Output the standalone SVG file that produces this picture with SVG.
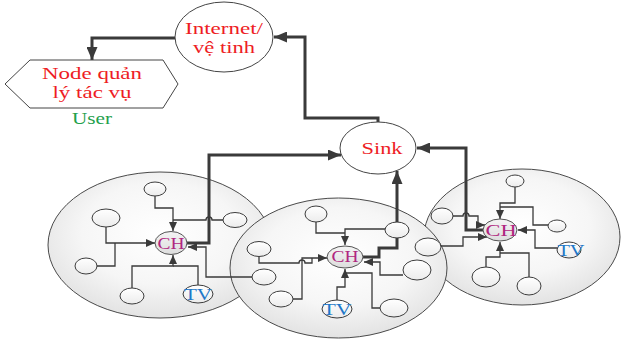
<svg xmlns="http://www.w3.org/2000/svg" width="621" height="340" viewBox="0 0 621 340">
<defs>
<radialGradient id="gCluster" cx="50%" cy="42%" r="58%">
<stop offset="0" stop-color="#ffffff"/>
<stop offset="0.6" stop-color="#f6f6f6"/>
<stop offset="1" stop-color="#e3e3e3"/>
</radialGradient>
<linearGradient id="gNode" x1="0" y1="0" x2="0" y2="1">
<stop offset="0" stop-color="#ffffff"/>
<stop offset="1" stop-color="#ececec"/>
</linearGradient>
<linearGradient id="gCH" x1="0" y1="0" x2="0" y2="1">
<stop offset="0" stop-color="#f4f4f4"/>
<stop offset="1" stop-color="#dddddd"/>
</linearGradient>
<marker id="aThin" markerUnits="userSpaceOnUse" markerWidth="10" markerHeight="8" refX="9" refY="4" orient="auto">
<path d="M0,0 L9,4 L0,8 z" fill="#3a3a3a"/>
</marker>
<marker id="aThick" markerUnits="userSpaceOnUse" markerWidth="14" markerHeight="11" refX="13" refY="5.5" orient="auto">
<path d="M0,0 L13,5.5 L0,11 z" fill="#3a3a3a"/>
</marker>
</defs>
<style>
.cluster{fill:url(#gCluster);stroke:#4a4a4a;stroke-width:1}
.node{fill:url(#gNode);stroke:#3c3c3c;stroke-width:1}
.ch{fill:url(#gCH);stroke:#555;stroke-width:1}
.big{fill:#ffffff;stroke:#444;stroke-width:1}
.thin{fill:none;stroke:#3a3a3a;stroke-width:1.3}
.thick{fill:none;stroke:#3a3a3a;stroke-width:3;stroke-linejoin:miter}
.t{font-family:"Liberation Serif","Times New Roman",serif;text-anchor:middle}
.red{fill:#ee1c24;font-size:17px}
.chT{fill:#b0267f;font-size:16px}
.tvT{fill:#1f78c8;font-size:16px}
</style>
<rect width="621" height="340" fill="#ffffff"/>

<g id="cluster1"><ellipse class="cluster" cx="160" cy="245" rx="112" ry="73"/></g>
<g id="cluster3"><ellipse class="cluster" cx="522" cy="237" rx="98" ry="68"/></g>
<g id="cluster2"><ellipse class="cluster" cx="338.5" cy="268" rx="108.5" ry="70"/></g>

<g id="connectors">
<path class="thin" d="M155,196 V208 H173 V231" marker-end="url(#aThin)"/>
<path class="thin" d="M223,220 H212 a3,3 0 0 0 -6,0 H173"/>
<path class="thin" d="M106,227 V243 H155" marker-end="url(#aThin)"/>
<path class="thin" d="M97,266 H115 V243"/>
<path class="thin" d="M132,288 V266 H173 V255" marker-end="url(#aThin)"/>
<path class="thin" d="M198,285 V266 H173"/>
<path class="thin" d="M252,277 H206 V247 H188" marker-end="url(#aThin)"/>

<path class="thin" d="M316,222 V233 H345"/>
<path class="thin" d="M385,229 H345 V245" marker-end="url(#aThin)"/>
<path class="thin" d="M259,256 V263 H299 a3,3 0 0 1 6,0 H312 V258"/>
<path class="thin" d="M293,299 H302 V258 H327" marker-end="url(#aThin)"/>
<path class="thin" d="M337,300 V287 H345 V269" marker-end="url(#aThin)"/>
<path class="thin" d="M380,308 H372 V273 H345"/>
<path class="thin" d="M403,275 H380 V262 H364" marker-end="url(#aThin)"/>

<path class="thin" d="M515,187 V203 H500 V219" marker-end="url(#aThin)"/>
<path class="thin" d="M548,225 H533 V207 H500"/>
<path class="thin" d="M557,248 H535 V230 H518" marker-end="url(#aThin)"/>
<path class="thin" d="M486,268 V257 H500 V242" marker-end="url(#aThin)"/>
<path class="thin" d="M529,278 V253 H500"/>
<path class="thin" d="M453,216 H463 a3,3 0 0 1 6,0 H478 V225 H485" marker-end="url(#aThin)"/>
<path class="thin" d="M440,246 H463 V237 H487" marker-end="url(#aThin)"/>

<path class="thick" d="M175,38 H92 V60" marker-end="url(#aThick)"/>
<path class="thick" d="M378,122 V118 H305 V37 H274" marker-end="url(#aThick)"/>
<path class="thick" d="M187,243 H209 V155 H341" marker-end="url(#aThick)"/>
<path class="thick" d="M363,257 H379 V248 H397 V171" marker-end="url(#aThick)"/>
<path class="thick" d="M483,230 H466 V148 H417" marker-end="url(#aThick)"/>
</g>

<g id="internet">
<ellipse class="big" cx="224" cy="37" rx="49" ry="35"/>
<text class="t red" x="224" y="34" textLength="78" lengthAdjust="spacingAndGlyphs">Internet/</text>
<text class="t red" x="224" y="53" textLength="62" lengthAdjust="spacingAndGlyphs">vệ tinh</text>
</g>

<g id="taskManager">
<polygon class="big" points="5,84 30,60 163,60 178,84 163,108 30,108" stroke="#777"/>
<text class="t red" x="92" y="79" textLength="100" lengthAdjust="spacingAndGlyphs">Node quản</text>
<text class="t red" x="92" y="98" textLength="79" lengthAdjust="spacingAndGlyphs">lý tác vụ</text>
<text class="t" x="92" y="124" font-size="16" fill="#22a04b" textLength="40" lengthAdjust="spacingAndGlyphs">User</text>
</g>

<g id="sink">
<ellipse class="big" cx="378" cy="148" rx="38" ry="26"/>
<text class="t red" x="382" y="154" textLength="41" lengthAdjust="spacingAndGlyphs">Sink</text>
</g>

<g id="c1-n1"><ellipse class="node" cx="155" cy="189" rx="11" ry="7"/></g>
<g id="c1-n2"><ellipse class="node" cx="106" cy="218" rx="14" ry="9"/></g>
<g id="c1-n3"><ellipse class="node" cx="86" cy="266" rx="11" ry="8"/></g>
<g id="c1-n4"><ellipse class="node" cx="132" cy="296" rx="12" ry="8"/></g>
<g id="c1-n5"><ellipse class="node" cx="235" cy="220" rx="12" ry="7.5"/></g>
<g id="c1-tv"><ellipse class="node" cx="198" cy="294" rx="15" ry="9"/><text class="t tvT" x="198" y="300" textLength="28" lengthAdjust="spacingAndGlyphs">TV</text></g>
<g id="c1-ch"><ellipse class="ch" cx="171" cy="243" rx="16" ry="11.5"/><text class="t chT" x="171" y="249" textLength="27" lengthAdjust="spacingAndGlyphs">CH</text></g>

<g id="c2-n1"><ellipse class="node" cx="316" cy="214" rx="11" ry="8"/></g>
<g id="c2-n2"><ellipse class="node" cx="259" cy="249" rx="12" ry="7.5"/></g>
<g id="c2-n3"><ellipse class="node" cx="264" cy="277" rx="12" ry="8"/></g>
<g id="c2-n4"><ellipse class="node" cx="281" cy="299" rx="12" ry="8"/></g>
<g id="c2-n5"><ellipse class="node" cx="394" cy="308" rx="14" ry="9"/></g>
<g id="c2-n6"><ellipse class="node" cx="417" cy="270" rx="14" ry="10"/></g>
<g id="c2-n7"><ellipse class="node" cx="428" cy="247" rx="13" ry="9"/></g>
<g id="c2-n8"><ellipse class="node" cx="397" cy="230" rx="12" ry="8"/></g>
<g id="c2-tv"><ellipse class="node" cx="337" cy="309" rx="15" ry="9"/><text class="t tvT" x="337" y="315" textLength="29" lengthAdjust="spacingAndGlyphs">TV</text></g>
<g id="c2-ch"><ellipse class="ch" cx="345" cy="257" rx="18" ry="11"/><text class="t chT" x="345" y="262" textLength="27" lengthAdjust="spacingAndGlyphs">CH</text></g>

<g id="c3-n1"><ellipse class="node" cx="442" cy="216" rx="11" ry="8"/></g>
<g id="c3-n2"><ellipse class="node" cx="515" cy="181" rx="9" ry="6"/></g>
<g id="c3-n3"><ellipse class="node" cx="557" cy="226" rx="9" ry="6"/></g>
<g id="c3-n4"><ellipse class="node" cx="486" cy="277" rx="14" ry="10"/></g>
<g id="c3-n5"><ellipse class="node" cx="529" cy="286" rx="12" ry="9"/></g>
<g id="c3-tv"><ellipse class="node" cx="569" cy="250" rx="12" ry="8"/><text class="t tvT" x="571" y="256" textLength="27" lengthAdjust="spacingAndGlyphs">TV</text></g>
<g id="c3-ch"><ellipse class="ch" cx="500" cy="230" rx="17" ry="11"/><text class="t chT" x="501" y="236" textLength="31" lengthAdjust="spacingAndGlyphs">CH</text></g>
</svg>
